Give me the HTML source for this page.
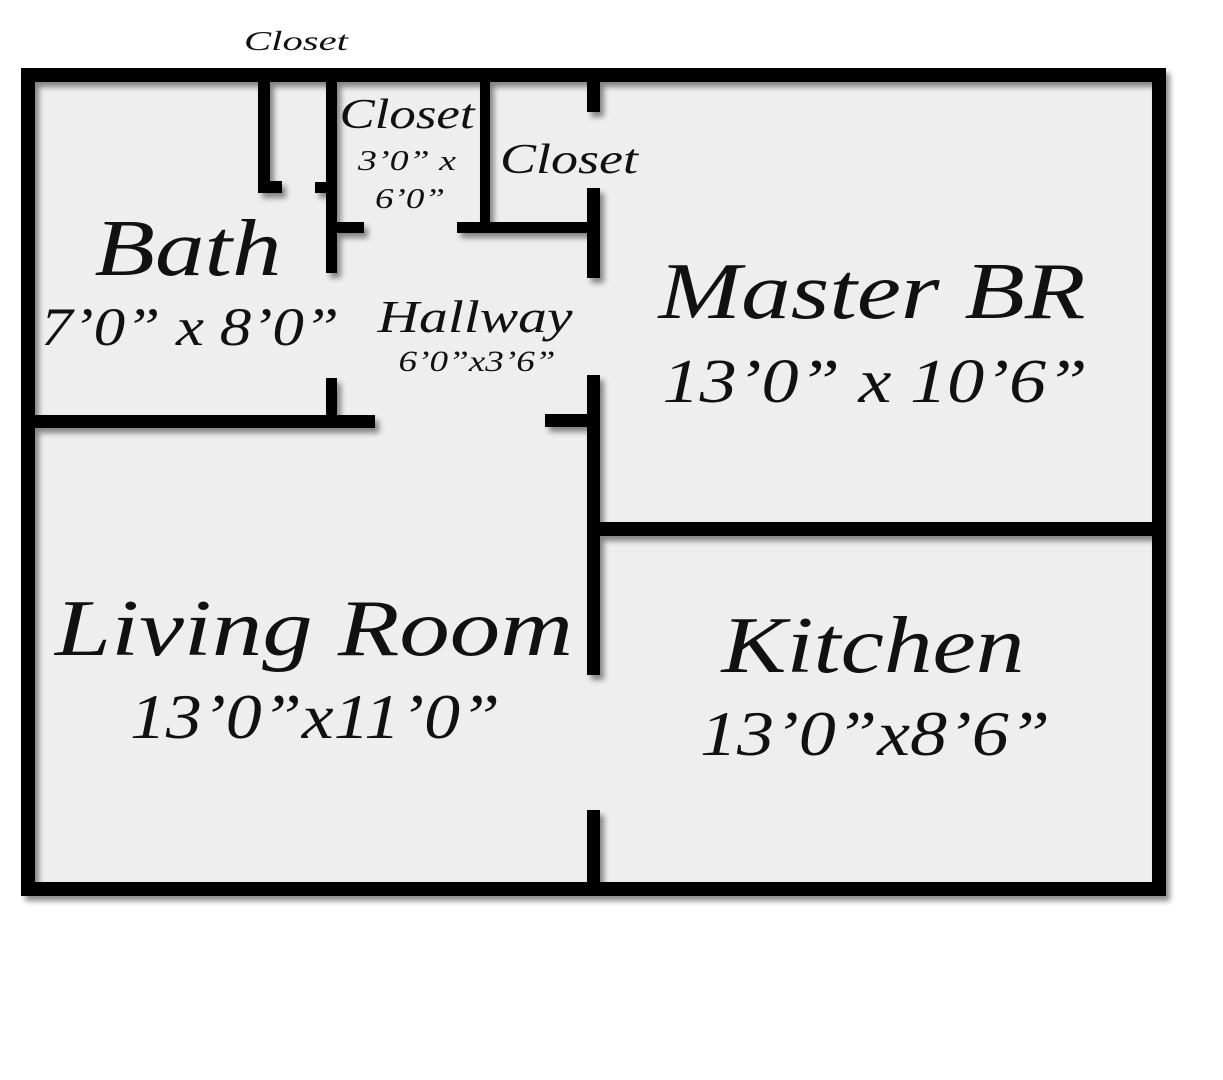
<!DOCTYPE html>
<html><head><meta charset="utf-8"><style>
html,body{margin:0;padding:0;background:#fff;}
svg{display:block}
text{font-family:"Liberation Serif",serif;font-style:italic;fill:#111}
</style></head><body>
<svg width="1223" height="1080" viewBox="0 0 1223 1080" xmlns="http://www.w3.org/2000/svg">
<defs><filter id="sh" x="-5%" y="-5%" width="110%" height="110%"><feGaussianBlur in="SourceAlpha" stdDeviation="3"/><feOffset dx="4" dy="5"/><feComponentTransfer><feFuncA type="linear" slope="0.45"/></feComponentTransfer><feMerge><feMergeNode/><feMergeNode in="SourceGraphic"/></feMerge></filter></defs>
<rect x="28" y="75" width="1131" height="814" fill="#eeeeee"/>
<g fill="#000" filter="url(#sh)">
<!-- outer -->
<rect x="21" y="68" width="1145" height="14"/>
<rect x="21" y="882" width="1145" height="14"/>
<rect x="21" y="68" width="14" height="828"/>
<rect x="1152" y="68" width="14" height="828"/>
<!-- bath closet -->
<rect x="258" y="82" width="12" height="111"/>
<rect x="258" y="181" width="24" height="12"/>
<rect x="326" y="82" width="11" height="191"/>
<rect x="315" y="182" width="12" height="11"/>
<rect x="326" y="222" width="38" height="11"/>
<rect x="480" y="82" width="10" height="151"/>
<rect x="457" y="222" width="130" height="11"/>
<!-- master left wall -->
<rect x="587" y="82" width="13" height="30"/>
<rect x="587" y="188" width="13" height="90"/>
<rect x="587" y="375" width="13" height="300"/>
<rect x="587" y="810" width="13" height="80"/>
<!-- bath bottom -->
<rect x="326" y="378" width="11" height="45"/>
<rect x="35" y="415" width="340" height="13"/>
<rect x="545" y="414" width="45" height="13"/>
<!-- master/kitchen -->
<rect x="600" y="522" width="552" height="14"/>
</g>
<text x="296" y="50" font-size="27" text-anchor="middle" textLength="104" lengthAdjust="spacingAndGlyphs">Closet</text>
<text x="407" y="128" font-size="42" text-anchor="middle" textLength="135" lengthAdjust="spacingAndGlyphs">Closet</text>
<text x="407" y="170" font-size="28" text-anchor="middle" textLength="98" lengthAdjust="spacingAndGlyphs">3’0” x</text>
<text x="410" y="208" font-size="28" text-anchor="middle" textLength="70" lengthAdjust="spacingAndGlyphs">6’0”</text>
<text x="569" y="173" font-size="42" text-anchor="middle" textLength="138" lengthAdjust="spacingAndGlyphs">Closet</text>
<text x="188" y="275" font-size="80" text-anchor="middle" textLength="187" lengthAdjust="spacingAndGlyphs">Bath</text>
<text x="190" y="345" font-size="54" text-anchor="middle" textLength="298" lengthAdjust="spacingAndGlyphs">7’0” x 8’0”</text>
<text x="475" y="332" font-size="46" text-anchor="middle" textLength="195" lengthAdjust="spacingAndGlyphs">Hallway</text>
<text x="477" y="371" font-size="30" text-anchor="middle" textLength="157" lengthAdjust="spacingAndGlyphs">6’0”x3’6”</text>
<text x="872" y="318" font-size="80" text-anchor="middle" textLength="427" lengthAdjust="spacingAndGlyphs">Master BR</text>
<text x="875" y="402" font-size="62" text-anchor="middle" textLength="425" lengthAdjust="spacingAndGlyphs">13’0” x 10’6”</text>
<text x="314" y="655" font-size="80" text-anchor="middle" textLength="518" lengthAdjust="spacingAndGlyphs">Living Room</text>
<text x="315" y="738" font-size="64" text-anchor="middle" textLength="370" lengthAdjust="spacingAndGlyphs">13’0”x11’0”</text>
<text x="873" y="672" font-size="80" text-anchor="middle" textLength="303" lengthAdjust="spacingAndGlyphs">Kitchen</text>
<text x="875" y="755" font-size="64" text-anchor="middle" textLength="350" lengthAdjust="spacingAndGlyphs">13’0”x8’6”</text>
</svg>
</body></html>
